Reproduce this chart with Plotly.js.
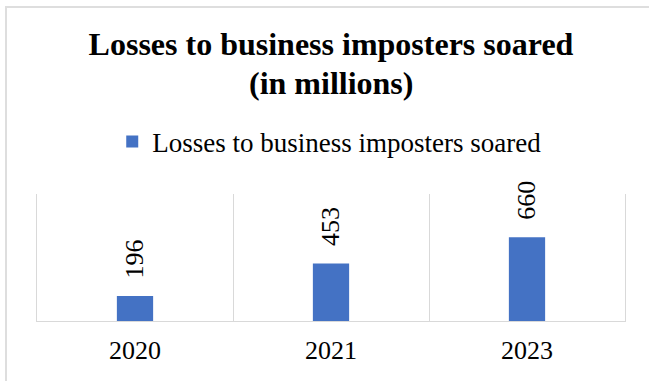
<!DOCTYPE html>
<html>
<head>
<meta charset="utf-8">
<script src="https://cdn.plot.ly/plotly-3.0.1.min.js"></script>
<style>
  html, body { margin: 0; padding: 0; background: #ffffff; }
  #wrap { position: relative; width: 649px; height: 381px; overflow: hidden; }
  #chart { position: absolute; left: 0; top: 0; width: 649px; height: 381px; }
  #frame { position: absolute; left: 5px; top: 6px; width: 700px; height: 400px;
           border-left: 2px solid #dedede; border-top: 2px solid #dedede; pointer-events: none; }
</style>
</head>
<body>
<div id="wrap">
  <div id="chart"></div>
  <div id="frame"></div>
</div>
<script>
const categories = ['2020', '2021', '2023'];
const values = [196, 453, 660];
const seriesName = 'Losses to business imposters soared';
const titleLine1 = 'Losses to business imposters soared';
const titleLine2 = '(in millions)';

const serif = 'Times New Roman, Liberation Serif, serif';

const trace = {
  type: 'bar',
  x: categories,
  y: values,
  name: seriesName,
  marker: { color: '#4472c4' },
  showlegend: true,
  hoverinfo: 'skip'
};

const annotations = categories.map((c, i) => ({
  x: i,
  y: values[i],
  xref: 'x',
  yref: 'y',
  text: String(values[i]),
  textangle: -90,
  showarrow: false,
  xanchor: 'center',
  yanchor: 'bottom',
  yshift: 15,
  font: { family: serif, size: 26, color: '#000000' }
}));

// second line of the chart title
annotations.push({
  x: 0.5,
  y: 1.875,
  xref: 'paper',
  yref: 'paper',
  xanchor: 'center',
  yanchor: 'middle',
  showarrow: false,
  text: titleLine2,
  font: { family: serif, size: 32, color: '#000000', weight: 'bold' }
});

const layout = {
  width: 649,
  height: 381,
  margin: { l: 37, r: 24, t: 194, b: 60 },
  paper_bgcolor: '#ffffff',
  plot_bgcolor: '#ffffff',
  font: { family: serif, color: '#000000' },
  title: {
    text: titleLine1,
    font: { family: serif, size: 32, color: '#000000', weight: 'bold' },
    x: 0.5,
    xanchor: 'center',
    xref: 'paper',
    yref: 'container',
    y: 1 - 33 / 381,
    yanchor: 'top'
  },
  showlegend: true,
  legend: {
    orientation: 'h',
    x: 0.497,
    xanchor: 'center',
    y: 1.41,
    yanchor: 'middle',
    font: { family: serif, size: 27, color: '#000000' },
    bgcolor: 'rgba(0,0,0,0)'
  },
  bargap: 0.815,
  xaxis: {
    type: 'category',
    tickson: 'boundaries',
    showgrid: true,
    gridcolor: '#d9d9d9',
    gridwidth: 1,
    showline: true,
    linecolor: '#d9d9d9',
    linewidth: 1,
    ticks: '',
    ticklabelstandoff: 6,
    tickfont: { family: serif, size: 26, color: '#000000' },
    range: [-0.5, 2.5],
    fixedrange: true
  },
  yaxis: {
    range: [0, 1000],
    showgrid: false,
    zeroline: false,
    showticklabels: false,
    showline: true,
    mirror: true,
    linecolor: '#d9d9d9',
    linewidth: 1,
    ticks: '',
    fixedrange: true
  },
  annotations: annotations
};

Plotly.newPlot('chart', [trace], layout, { displayModeBar: false, staticPlot: true });
</script>
</body>
</html>
